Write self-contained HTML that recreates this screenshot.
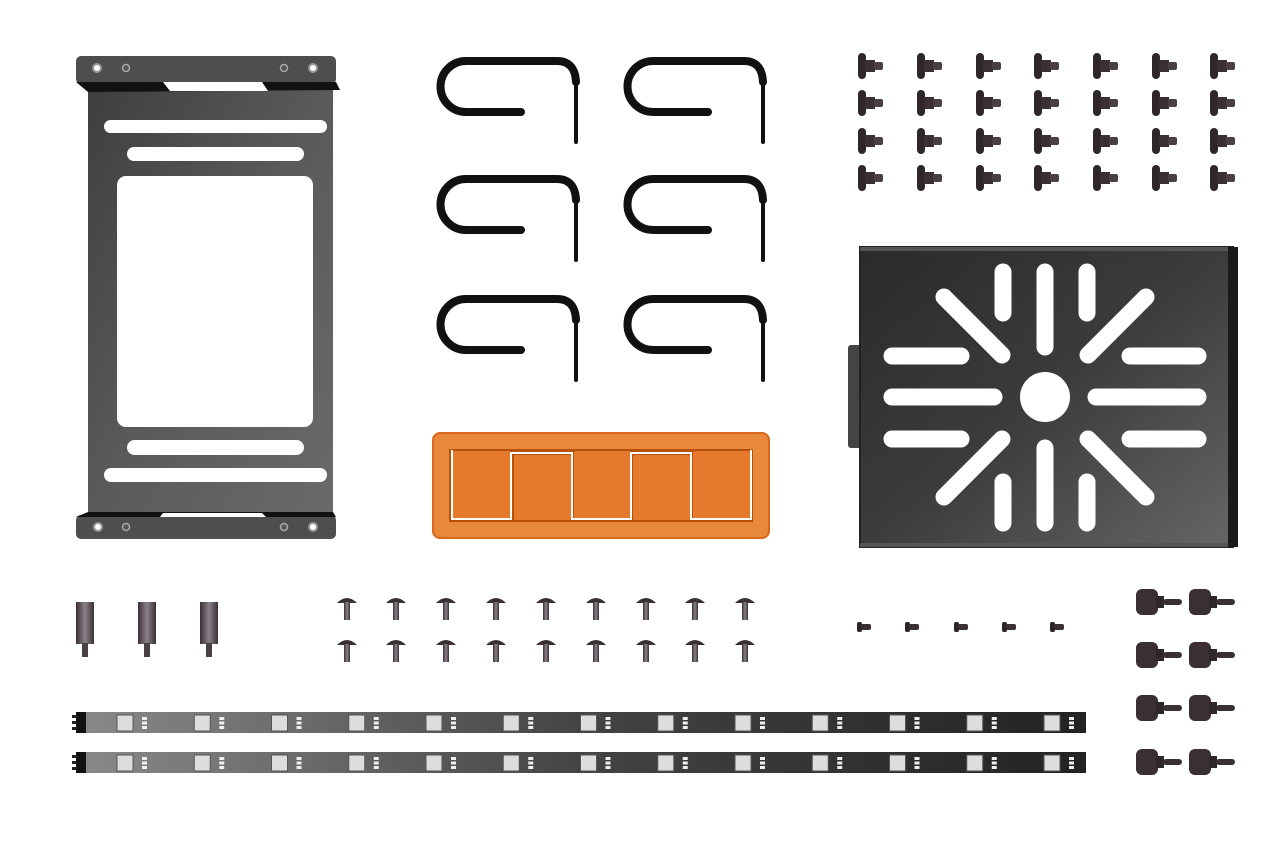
<!DOCTYPE html>
<html><head><meta charset="utf-8"><style>html,body{margin:0;padding:0;background:#fff;width:1275px;height:850px;overflow:hidden}</style></head>
<body>
<svg width="1275" height="850" viewBox="0 0 1275 850" xmlns="http://www.w3.org/2000/svg">
<defs>
<linearGradient id="gb" x1="0" y1="0" x2="1" y2="1"><stop offset="0" stop-color="#3e3e3e"/><stop offset="0.5" stop-color="#5a5a5a"/><stop offset="1" stop-color="#6a6a6a"/></linearGradient>
<linearGradient id="gt" x1="0" y1="0" x2="1" y2="1"><stop offset="0" stop-color="#2a2a2a"/><stop offset="0.5" stop-color="#3c3c3c"/><stop offset="1" stop-color="#666"/></linearGradient>
<linearGradient id="gs" x1="0" y1="0" x2="1" y2="0"><stop offset="0" stop-color="#8a8a8a"/><stop offset="0.5" stop-color="#444"/><stop offset="1" stop-color="#222"/></linearGradient>
<linearGradient id="gm" x1="0" y1="0" x2="1" y2="0"><stop offset="0" stop-color="#3a3034"/><stop offset="0.5" stop-color="#8a8088"/><stop offset="1" stop-color="#3a3034"/></linearGradient>
<g id="hook" fill="none" stroke="#111" stroke-linecap="round">
<path d="M521 112 H466 A25.5 25.5 0 0 1 466 61 H557 Q575 61 576 82" stroke-width="8"/>
<path d="M576 82 V142" stroke-width="4"/>
</g>
<g id="ts">
<rect x="0" y="-13" width="8" height="26" rx="4" fill="#2e2629"/>
<rect x="7" y="-6" width="10" height="12" fill="#3a3034"/>
<rect x="16" y="-4" width="9" height="8" rx="2" fill="#4a4044"/>
</g>
<g id="ms">
<path d="M-10 8 Q0 -2 10 8 Z" fill="#3a3034"/>
<rect x="-3" y="7" width="6" height="18" fill="url(#gm)"/>
</g>
<g id="ss">
<rect x="0" y="-5" width="5" height="10" rx="2" fill="#2e2629"/>
<rect x="4" y="-3" width="10" height="6" rx="2" fill="#3a3034"/>
</g>
<g id="th">
<rect x="0" y="-13" width="22" height="26" rx="6" fill="#3a3034"/>
<rect x="20" y="-6" width="8" height="12" fill="#2e2629"/>
<rect x="27" y="-3" width="19" height="6" rx="3" fill="#3a3034"/>
</g>
<g id="so">
<rect x="0" y="0" width="18" height="42" fill="url(#gm)"/>
<rect x="6" y="41" width="6" height="14" fill="#4a4044"/>
</g>
<g id="led">
<rect x="0" y="0" width="16" height="16" fill="#ddd" stroke="#555"/>
<rect x="25" y="2" width="5" height="3" fill="#eee"/><rect x="25" y="6.5" width="5" height="3" fill="#eee"/><rect x="25" y="11" width="5" height="3" fill="#eee"/>
</g>
<g id="strip">
<rect x="76" y="0" width="1010" height="21" fill="url(#gs)"/>
<rect x="76" y="0" width="10" height="21" fill="#111"/>
<rect x="72" y="3" width="5" height="3" fill="#222"/><rect x="72" y="9" width="5" height="3" fill="#222"/><rect x="72" y="15" width="5" height="3" fill="#222"/>
<use href="#led" x="117" y="3"/><use href="#led" x="194.25" y="3"/><use href="#led" x="271.5" y="3"/><use href="#led" x="348.75" y="3"/><use href="#led" x="426" y="3"/><use href="#led" x="503.25" y="3"/><use href="#led" x="580.5" y="3"/><use href="#led" x="657.75" y="3"/><use href="#led" x="735" y="3"/><use href="#led" x="812.25" y="3"/><use href="#led" x="889.5" y="3"/><use href="#led" x="966.75" y="3"/><use href="#led" x="1044" y="3"/>
</g>
</defs>

<!-- bracket -->
<rect x="88" y="84" width="245" height="432" fill="url(#gb)"/>
<rect x="76" y="56" width="260" height="28" rx="5" fill="#4e4e4e"/>
<polygon points="76,82 336,82 340,90 88,92" fill="#111"/>
<polygon points="163,82 262,82 268,91 170,91" fill="#fff"/>
<rect x="76" y="515" width="260" height="24" rx="5" fill="#4e4e4e"/>
<polygon points="88,512 333,512 336,517 76,517" fill="#111"/>
<polygon points="163,513 262,513 266,517 160,517" fill="#fff"/>
<g fill="#fff" stroke="#999" stroke-width="2">
<circle cx="97" cy="68" r="4"/><circle cx="313" cy="68" r="4"/><circle cx="98" cy="527" r="4"/><circle cx="313" cy="527" r="4"/>
</g>
<g fill="#555" stroke="#aaa" stroke-width="1.5">
<circle cx="126" cy="68" r="3.5"/><circle cx="284" cy="68" r="3.5"/><circle cx="126" cy="527" r="3.5"/><circle cx="284" cy="527" r="3.5"/>
</g>
<g fill="#fff">
<rect x="104" y="120" width="223" height="13" rx="6.5"/>
<rect x="127" y="147" width="177" height="14" rx="7"/>
<rect x="117" y="176" width="196" height="251" rx="9"/>
<rect x="127" y="440" width="177" height="15" rx="7.5"/>
<rect x="104" y="468" width="223" height="14" rx="7"/>
</g>

<!-- hooks -->
<use href="#hook"/><use href="#hook" x="187"/>
<use href="#hook" y="118"/><use href="#hook" x="187" y="118"/>
<use href="#hook" y="238"/><use href="#hook" x="187" y="238"/>

<!-- orange -->
<rect x="433" y="433" width="336" height="105" rx="7" fill="#e8883a" stroke="#d8691c" stroke-width="2"/>
<rect x="449" y="449" width="304" height="73" fill="#b8500c"/>
<g fill="#e67a2c">
<rect x="452" y="451" width="59" height="68" rx="2"/>
<rect x="514" y="455" width="57" height="65" rx="2"/>
<rect x="574" y="451" width="56" height="68" rx="2"/>
<rect x="633" y="455" width="57" height="65" rx="2"/>
<rect x="693" y="451" width="58" height="68" rx="2"/>
</g>
<path d="M452 450 V519 H511 V453 H572 V519 H631 V453 H691 V519 H751 V450" fill="none" stroke="#fff" stroke-width="2"/>

<!-- tray -->
<rect x="848" y="345" width="14" height="103" rx="3" fill="#444"/>
<rect x="860" y="247" width="373" height="300" fill="url(#gt)" stroke="#222" stroke-width="2"/>
<rect x="860" y="247" width="373" height="4" fill="#555"/>
<rect x="860" y="543" width="373" height="4" fill="#555"/>
<rect x="1228" y="247" width="10" height="300" fill="#1a1a1a"/>
<circle cx="1045" cy="397" r="25" fill="#fff"/>
<g stroke="#fff" stroke-width="17" stroke-linecap="round">
<line x1="892" y1="356" x2="961" y2="356"/><line x1="1130" y1="356" x2="1198" y2="356"/>
<line x1="892" y1="397" x2="994" y2="397"/><line x1="1096" y1="397" x2="1198" y2="397"/>
<line x1="892" y1="439" x2="961" y2="439"/><line x1="1130" y1="439" x2="1198" y2="439"/>
<line x1="1003" y1="272" x2="1003" y2="313"/><line x1="1045" y1="272" x2="1045" y2="347"/><line x1="1087" y1="272" x2="1087" y2="313"/>
<line x1="1003" y1="482" x2="1003" y2="523"/><line x1="1045" y1="448" x2="1045" y2="523"/><line x1="1087" y1="482" x2="1087" y2="523"/>
<line x1="944" y1="297" x2="1002" y2="355"/><line x1="1146" y1="297" x2="1088" y2="355"/>
<line x1="944" y1="497" x2="1002" y2="439"/><line x1="1146" y1="497" x2="1088" y2="439"/>
</g>

<!-- top-right screws -->
<g>
<use href="#ts" x="858" y="66"/><use href="#ts" x="917" y="66"/><use href="#ts" x="976" y="66"/><use href="#ts" x="1034" y="66"/><use href="#ts" x="1093" y="66"/><use href="#ts" x="1152" y="66"/><use href="#ts" x="1210" y="66"/>
<use href="#ts" x="858" y="103"/><use href="#ts" x="917" y="103"/><use href="#ts" x="976" y="103"/><use href="#ts" x="1034" y="103"/><use href="#ts" x="1093" y="103"/><use href="#ts" x="1152" y="103"/><use href="#ts" x="1210" y="103"/>
<use href="#ts" x="858" y="141"/><use href="#ts" x="917" y="141"/><use href="#ts" x="976" y="141"/><use href="#ts" x="1034" y="141"/><use href="#ts" x="1093" y="141"/><use href="#ts" x="1152" y="141"/><use href="#ts" x="1210" y="141"/>
<use href="#ts" x="858" y="178"/><use href="#ts" x="917" y="178"/><use href="#ts" x="976" y="178"/><use href="#ts" x="1034" y="178"/><use href="#ts" x="1093" y="178"/><use href="#ts" x="1152" y="178"/><use href="#ts" x="1210" y="178"/>
</g>

<!-- standoffs -->
<use href="#so" x="76" y="602"/><use href="#so" x="138" y="602"/><use href="#so" x="200" y="602"/>

<!-- mid screws -->
<g>
<use href="#ms" x="347" y="595"/><use href="#ms" x="396" y="595"/><use href="#ms" x="446" y="595"/><use href="#ms" x="496" y="595"/><use href="#ms" x="546" y="595"/><use href="#ms" x="596" y="595"/><use href="#ms" x="646" y="595"/><use href="#ms" x="695" y="595"/><use href="#ms" x="745" y="595"/>
<use href="#ms" x="347" y="637"/><use href="#ms" x="396" y="637"/><use href="#ms" x="446" y="637"/><use href="#ms" x="496" y="637"/><use href="#ms" x="546" y="637"/><use href="#ms" x="596" y="637"/><use href="#ms" x="646" y="637"/><use href="#ms" x="695" y="637"/><use href="#ms" x="745" y="637"/>
</g>

<!-- small screws -->
<use href="#ss" x="857" y="627"/><use href="#ss" x="905" y="627"/><use href="#ss" x="954" y="627"/><use href="#ss" x="1002" y="627"/><use href="#ss" x="1050" y="627"/>

<!-- thumb screws -->
<use href="#th" x="1136" y="602"/><use href="#th" x="1189" y="602"/>
<use href="#th" x="1136" y="655"/><use href="#th" x="1189" y="655"/>
<use href="#th" x="1136" y="708"/><use href="#th" x="1189" y="708"/>
<use href="#th" x="1136" y="762"/><use href="#th" x="1189" y="762"/>

<!-- LED strips -->
<use href="#strip" y="712"/>
<use href="#strip" y="752"/>
</svg>
</body></html>
